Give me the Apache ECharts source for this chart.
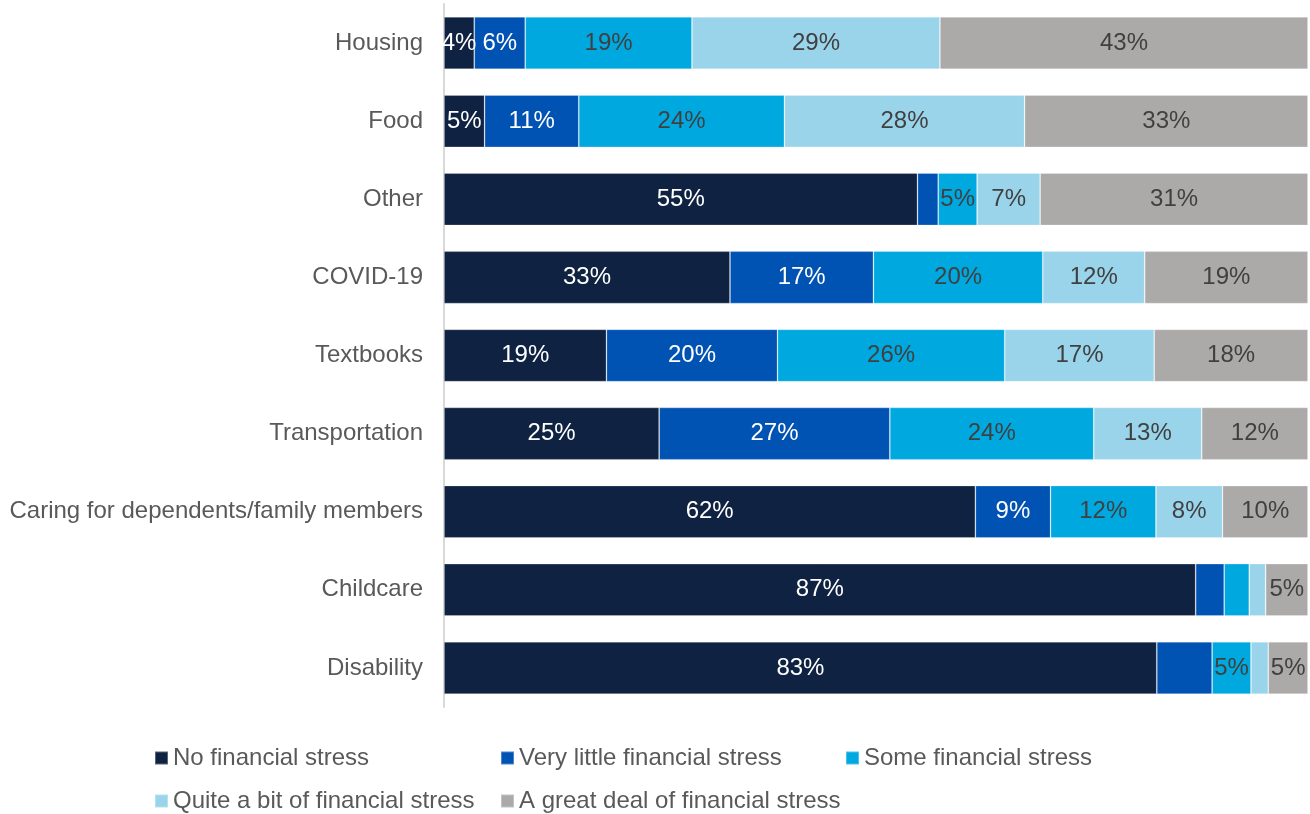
<!DOCTYPE html>
<html>
<head>
<meta charset="utf-8">
<title>Sources of financial stress</title>
<script src="https://cdn.jsdelivr.net/npm/echarts@6/dist/echarts.min.js"></script>
<style>
  html, body { margin: 0; padding: 0; background: #ffffff; }
  #chart { width: 1310px; height: 814px; }
</style>
</head>
<body>
<div id="chart"></div>
<script>
// Categories, top to bottom
const categories = [
  'Housing', 'Food', 'Other', 'COVID-19', 'Textbooks', 'Transportation',
  'Caring for dependents/family members', 'Childcare', 'Disability'
];

// Share of respondents (%) per level of financial stress
const noStress        = [3.5, 4.7, 54.8, 33.1, 18.8, 24.9, 61.5, 87.0, 82.5];
const veryLittle      = [5.9, 10.9, 2.4, 16.6, 19.8, 26.7, 8.7, 3.3, 6.4];
const someStress      = [19.3, 23.8, 4.5, 19.6, 26.3, 23.6, 12.2, 2.9, 4.5];
const quiteABit       = [28.7, 27.8, 7.3, 11.8, 17.3, 12.5, 7.7, 1.9, 2.0];
const greatDeal       = [42.6, 32.8, 31.0, 18.9, 17.8, 12.3, 9.9, 4.9, 4.6];

const seriesNames = [
  'No financial stress',
  'Very little financial stress',
  'Some financial stress',
  'Quite a bit of financial stress',
  'A great deal of financial stress'
];
const seriesValues = [noStress, veryLittle, someStress, quiteABit, greatDeal];
const seriesColors = ['#0f2241', '#0053b3', '#00a8e0', '#99d4ea', '#abaaa8'];
const labelColors  = ['#ffffff', '#ffffff', '#404040', '#404040', '#404040'];

// Segments that carry no value label
const unlabeled = {
  'Very little financial stress': ['Other', 'Childcare', 'Disability'],
  'Some financial stress': ['Childcare'],
  'Quite a bit of financial stress': ['Childcare', 'Disability']
};

const FONT = '"Liberation Sans", Arial, sans-serif';

const series = seriesNames.map((name, si) => ({
  name: name,
  type: 'bar',
  stack: 'total',
  barCategoryGap: '33%',
  itemStyle: {
    color: seriesColors[si],
    borderColor: 'rgba(255,255,255,0.3)',
    borderWidth: 0.8
  },
  label: {
    show: true,
    position: 'inside',
    color: labelColors[si],
    fontFamily: FONT,
    fontSize: 24,
    formatter: p => Math.round(p.value) + '%'
  },
  emphasis: { disabled: true },
  data: seriesValues[si].map((v, ci) => {
    const hide = (unlabeled[name] || []).includes(categories[ci]);
    return hide ? { value: v, label: { show: false } } : v;
  })
}));

// One legend block per entry so the entries line up in columns
const legendSlots = [
  { left: 154, top: 746 },
  { left: 500, top: 746 },
  { left: 845, top: 746 },
  { left: 154, top: 789 },
  { left: 500, top: 789 }
];
const legends = seriesNames.map((name, i) => ({
  data: [name],
  left: legendSlots[i].left,
  top: legendSlots[i].top,
  padding: 0,
  orient: 'horizontal',
  icon: 'rect',
  itemWidth: 13,
  itemHeight: 13,
  selectedMode: false,
  textStyle: { fontFamily: FONT, fontSize: 24, color: '#595959' }
}));

const chart = echarts.init(document.getElementById('chart'), null, { renderer: 'canvas' });
chart.setOption({
  animation: false,
  backgroundColor: '#ffffff',
  grid: { left: 444, right: 2, top: 4, bottom: 107, containLabel: false },
  xAxis: {
    type: 'value',
    min: 0,
    max: 100,
    show: false
  },
  yAxis: {
    type: 'category',
    data: categories,
    inverse: true,
    axisLine: { show: true, lineStyle: { color: '#d9d9d9', width: 2 } },
    axisTick: { show: false },
    axisLabel: {
      margin: 21,
      fontFamily: FONT,
      fontSize: 24,
      color: '#595959'
    }
  },
  legend: legends,
  series: series
});
</script>
</body>
</html>
